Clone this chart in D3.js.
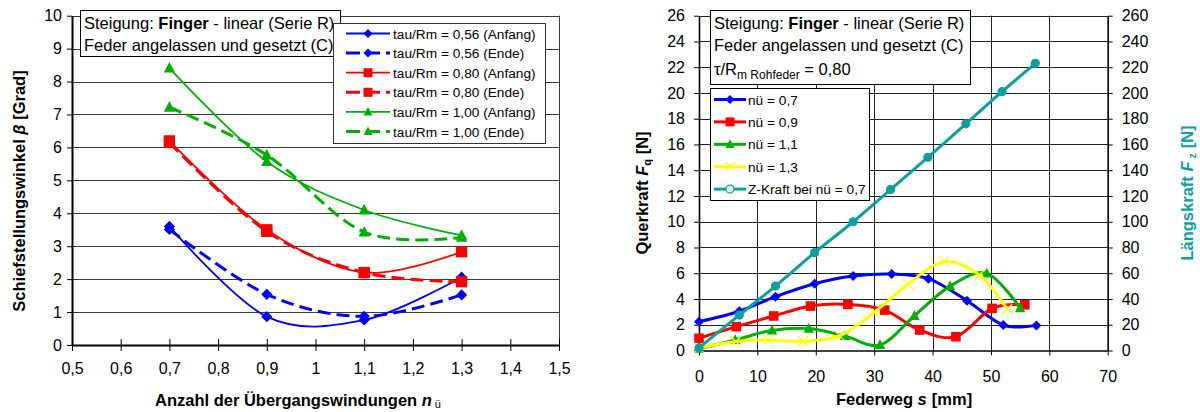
<!DOCTYPE html>
<html>
<head>
<meta charset="utf-8">
<script src="https://cdnjs.cloudflare.com/ajax/libs/d3/7.8.5/d3.min.js"></script>
<style>
body { margin: 0; background: #fff; }
svg { font-family: "Liberation Sans", Arial, sans-serif; }
</style>
</head>
<body>
<div id="chart"></div>
<script>
// ---- left chart data: Schiefstellungswinkel über n_ü
const nuValues = [0.7, 0.9, 1.1, 1.3];
const tau056Anfang = [3.6, 0.86, 0.76, 2.06];
const tau056Ende = [3.51, 1.54, 0.87, 1.52];
const tau080Anfang = [6.2, 3.5, 2.2, 2.83];
const tau080Ende = [6.15, 3.45, 2.2, 1.92];
const tau100Anfang = [8.41, 5.57, 4.1, 3.33];
const tau100Ende = [7.22, 5.77, 3.43, 3.27];
const leftLegend = ['tau/Rm = 0,56 (Anfang)', 'tau/Rm = 0,56 (Ende)', 'tau/Rm = 0,80 (Anfang)',
    'tau/Rm = 0,80 (Ende)', 'tau/Rm = 1,00 (Anfang)', 'tau/Rm = 1,00 (Ende)'];
const leftXTicks = [0.5, 0.6, 0.7, 0.8, 0.9, 1, 1.1, 1.2, 1.3, 1.4, 1.5];
const leftYTicks = [0, 1, 2, 3, 4, 5, 6, 7, 8, 9, 10];

// ---- right chart data: Querkraft / Längskraft über Federweg
const sNu07 = [0, 6.9, 13.1, 19.8, 26.4, 33.0, 39.3, 45.9, 52.1, 57.8];
const fqNu07 = [2.24, 3.05, 4.18, 5.18, 5.78, 5.94, 5.58, 3.87, 1.98, 1.95];
const sNu09 = [0, 6.4, 12.8, 19.1, 25.5, 31.8, 37.8, 44.0, 50.2, 55.8];
const fqNu09 = [0.95, 1.85, 2.68, 3.45, 3.58, 3.14, 1.59, 1.07, 3.27, 3.55];
const sNu11 = [0, 6.2, 12.5, 18.8, 25.0, 31.0, 36.9, 43.0, 49.3, 55.0];
const fqNu11 = [0.15, 0.82, 1.56, 1.7, 1.13, 0.43, 2.7, 5.0, 5.99, 3.3];
const sNu13 = [0, 6.3, 11.9, 17.8, 24.1, 30.0, 35.8, 42.0, 48.0, 52.8];
const fqNu13 = [0.2, 0.7, 0.82, 0.72, 1.15, 2.95, 5.15, 6.9, 5.86, 3.22];
const sZ = [0, 6.9, 13.1, 19.8, 26.4, 32.8, 39.2, 45.7, 51.9, 57.6];
const fzZ = [2, 27.5, 50, 76, 100, 125, 150, 176, 201, 223];
const rightLegend = ['nü = 0,7', 'nü = 0,9', 'nü = 1,1', 'nü = 1,3', 'Z-Kraft bei nü = 0,7'];
const rightXTicks = [0, 10, 20, 30, 40, 50, 60, 70];
const rightYTicks = [0, 2, 4, 6, 8, 10, 12, 14, 16, 18, 20, 22, 24, 26];
const rightY2Ticks = [0, 20, 40, 60, 80, 100, 120, 140, 160, 180, 200, 220, 240, 260];

const BLUE = '#0000ff', RED = '#ff0000', GREEN = '#00b000', YELLOW = '#ffff00', TEAL = '#0aa0a0';

const svg = d3.select('#chart').append('svg')
    .attr('width', 1200)
    .attr('height', 412);

const fmt = d => String(d).replace('.', ',');
const smooth = d3.curveCatmullRom.alpha(0);

// marker drawing, r = half size
function marker (g, type, x, y, r, color) {
    if (type === 'diamond') {
        g.append('path').attr('d', `M${x},${y - r}L${x + r},${y}L${x},${y + r}L${x - r},${y}Z`).attr('fill', color);
    } else if (type === 'square') {
        g.append('rect').attr('x', x - r).attr('y', y - r).attr('width', 2 * r).attr('height', 2 * r).attr('fill', color);
    } else if (type === 'triangle') {
        g.append('path').attr('d', `M${x},${y - r * 1.1}L${x + r},${y + r * 0.8}L${x - r},${y + r * 0.8}Z`).attr('fill', color);
    } else if (type === 'cross') {
        g.append('path').attr('d', `M${x - r},${y - r}L${x + r},${y + r}M${x - r},${y + r}L${x + r},${y - r}`)
            .attr('stroke', color).attr('stroke-width', 1.2);
    } else if (type === 'circle') {
        g.append('circle').attr('cx', x).attr('cy', y).attr('r', r).attr('fill', color);
    } else if (type === 'opencircle') {
        g.append('circle').attr('cx', x).attr('cy', y).attr('r', r - 0.5).attr('fill', '#e8f6f6')
            .attr('stroke', color).attr('stroke-width', 1.2);
    }
}

function styleAxis (g, size) {
    g.selectAll('text').attr('font-size', size).attr('fill', '#000')
        .attr('font-family', '"Liberation Sans", Arial, sans-serif');
    g.selectAll('line').attr('stroke', '#000');
    g.select('.domain').attr('stroke', '#000');
}

// =================== LEFT CHART ===================
const xL = d3.scaleLinear().domain([0.5, 1.5]).range([72, 559]);
const yL = d3.scaleLinear().domain([0, 10]).range([345, 15.7]);
const left = svg.append('g');

left.append('g').selectAll('line')
    .data(leftYTicks.filter(d => d > 0))
    .join('line')
    .attr('x1', xL(0.5)).attr('x2', xL(1.5))
    .attr('y1', d => Math.round(yL(d)) + 0.5).attr('y2', d => Math.round(yL(d)) + 0.5)
    .attr('stroke', '#3a3a3a');
left.append('line')
    .attr('x1', xL(1.5) + 0.5).attr('x2', xL(1.5) + 0.5)
    .attr('y1', yL(10)).attr('y2', yL(0))
    .attr('stroke', '#3a3a3a');

const lyAxis = left.append('g')
    .attr('transform', `translate(${xL(0.5)},0)`)
    .call(d3.axisLeft(yL).tickValues(leftYTicks).tickSize(5).tickSizeOuter(0).tickPadding(5).tickFormat(d => d));
styleAxis(lyAxis, 16);
lyAxis.select('.domain').attr('stroke-width', 2);

const lxAxis = left.append('g')
    .attr('transform', `translate(0,${yL(0)})`)
    .call(d3.axisBottom(xL).tickValues(leftXTicks).tickSize(5).tickSizeOuter(0).tickFormat(fmt));
styleAxis(lxAxis, 16);
lxAxis.select('.domain').attr('stroke-width', 2);
lxAxis.selectAll('.tick line').attr('y1', -6).attr('y2', 6);
lxAxis.selectAll('.tick text').attr('y', 18);

const leftSeries = [
    { values: tau056Anfang, color: BLUE, dash: null, type: 'diamond' },
    { values: tau056Ende, color: BLUE, dash: '13,6', type: 'diamond' },
    { values: tau080Anfang, color: RED, dash: null, type: 'square' },
    { values: tau080Ende, color: RED, dash: '13,6', type: 'square' },
    { values: tau100Anfang, color: GREEN, dash: null, type: 'triangle' },
    { values: tau100Ende, color: GREEN, dash: '13,6', type: 'triangle' }
];

const lineL = d3.line()
    .x((d, i) => xL(nuValues[i]))
    .y(d => yL(d))
    .curve(smooth);

leftSeries.forEach(s => {
    left.append('path')
        .attr('d', lineL(s.values))
        .attr('fill', 'none')
        .attr('stroke', s.color)
        .attr('stroke-width', s.dash ? 3 : 1.8)
        .attr('stroke-dasharray', s.dash);
    const mg = left.append('g');
    s.values.forEach((v, i) => marker(mg, s.type, xL(nuValues[i]), yL(v), 5.6, s.color));
});

// title box
const ltb = left.append('g');
ltb.append('rect').attr('x', 80.5).attr('y', 10.5).attr('width', 260).attr('height', 46)
    .attr('fill', '#fff').attr('stroke', '#000');
const lt1 = ltb.append('text').attr('x', 84).attr('y', 28.5).attr('font-size', 16.5);
lt1.append('tspan').text('Steigung: ');
lt1.append('tspan').attr('font-weight', 'bold').text('Finger');
lt1.append('tspan').text(' - linear (Serie R)');
ltb.append('text').attr('x', 84).attr('y', 50.5).attr('font-size', 16.5).text('Feder angelassen und gesetzt (C)');

// legend
const llg = left.append('g');
llg.append('rect').attr('x', 333.5).attr('y', 23.5).attr('width', 212).attr('height', 120)
    .attr('fill', '#fff').attr('stroke', '#333');
leftSeries.forEach((s, i) => {
    const cy = 33.5 + i * 19.6;
    llg.append('line').attr('x1', 346).attr('x2', 390).attr('y1', cy).attr('y2', cy)
        .attr('stroke', s.color).attr('stroke-width', s.dash ? 3 : 1.8)
        .attr('stroke-dasharray', s.dash ? '14,6' : null);
    marker(llg, s.type, 368, cy, 4.5, s.color);
    llg.append('text').attr('x', 393).attr('y', cy + 5).attr('font-size', 13.7).text(leftLegend[i]);
});

// axis titles
const lxt = left.append('text').attr('x', 155).attr('y', 406).attr('font-size', 16.5).attr('font-weight', 'bold');
lxt.append('tspan').text('Anzahl der Übergangswindungen ');
lxt.append('tspan').attr('font-style', 'italic').text('n');
lxt.append('tspan').attr('font-size', 11).attr('dx', 3).attr('dy', 2).attr('font-weight', 'normal').text('ü');

const lyt = left.append('text').attr('transform', 'translate(25,191) rotate(-90)')
    .attr('text-anchor', 'middle').attr('font-size', 16.5).attr('font-weight', 'bold');
lyt.append('tspan').text('Schiefstellungswinkel ');
lyt.append('tspan').attr('font-style', 'italic').text('β');
lyt.append('tspan').text(' [Grad]');

// =================== RIGHT CHART ===================
const xR = d3.scaleLinear().domain([0, 70]).range([699, 1107.7]);
const yR = d3.scaleLinear().domain([0, 26]).range([350.5, 15.7]);
const yR2 = d3.scaleLinear().domain([0, 260]).range([350.5, 15.7]);
const right = svg.append('g');

right.append('g').selectAll('line')
    .data(rightYTicks.filter(d => d > 0))
    .join('line')
    .attr('x1', xR(0)).attr('x2', xR(70))
    .attr('y1', d => Math.round(yR(d)) + 0.5).attr('y2', d => Math.round(yR(d)) + 0.5)
    .attr('stroke', '#222');
right.append('g').selectAll('line')
    .data(rightXTicks.filter(d => d > 0 && d < 70))
    .join('line')
    .attr('x1', d => Math.round(xR(d)) + 0.5).attr('x2', d => Math.round(xR(d)) + 0.5)
    .attr('y1', yR(26)).attr('y2', yR(0))
    .attr('stroke', '#222');

const ryAxis = right.append('g')
    .attr('transform', `translate(${xR(0)},0)`)
    .call(d3.axisLeft(yR).tickValues(rightYTicks).tickSize(5).tickSizeOuter(0).tickPadding(9));
styleAxis(ryAxis, 16);
ryAxis.select('.domain').attr('stroke-width', 1.6);

const ry2Axis = right.append('g')
    .attr('transform', `translate(${xR(70)},0)`)
    .call(d3.axisRight(yR2).tickValues(rightY2Ticks).tickSize(5).tickSizeOuter(0).tickPadding(9));
styleAxis(ry2Axis, 16);
ry2Axis.select('.domain').attr('stroke-width', 1.6);

const rxAxis = right.append('g')
    .attr('transform', `translate(0,${yR(0)})`)
    .call(d3.axisBottom(xR).tickValues(rightXTicks).tickSize(5).tickSizeOuter(0));
styleAxis(rxAxis, 16);
rxAxis.select('.domain').attr('stroke-width', 1.4);
rxAxis.selectAll('.tick text').attr('y', 20);

const rightSeries = [
    { s: sNu07, v: fqNu07, color: BLUE, type: 'diamond', r: 5, y: yR },
    { s: sNu09, v: fqNu09, color: RED, type: 'square', r: 4.8, y: yR },
    { s: sNu11, v: fqNu11, color: GREEN, type: 'triangle', r: 5.2, y: yR },
    { s: sNu13, v: fqNu13, color: YELLOW, type: 'cross', r: 5, y: yR },
    { s: sZ, v: fzZ, color: TEAL, type: 'circle', r: 4.6, y: yR2 }
];

rightSeries.forEach(ser => {
    const line = d3.line()
        .x((d, i) => xR(ser.s[i]))
        .y(d => ser.y(d))
        .curve(smooth);
    right.append('path')
        .attr('d', line(ser.v))
        .attr('fill', 'none')
        .attr('stroke', ser.color)
        .attr('stroke-width', 3);
    const mg = right.append('g');
    ser.v.forEach((d, i) => marker(mg, ser.type, xR(ser.s[i]), ser.y(d), ser.r, ser.color));
});

// title box
const rtb = right.append('g');
rtb.append('rect').attr('x', 710.5).attr('y', 10.5).attr('width', 260).attr('height', 74)
    .attr('fill', '#fff').attr('stroke', '#000');
const rt1 = rtb.append('text').attr('x', 714).attr('y', 28.5).attr('font-size', 16.5);
rt1.append('tspan').text('Steigung: ');
rt1.append('tspan').attr('font-weight', 'bold').text('Finger');
rt1.append('tspan').text(' - linear (Serie R)');
rtb.append('text').attr('x', 714).attr('y', 50.5).attr('font-size', 16.5).text('Feder angelassen und gesetzt (C)');
const rt3 = rtb.append('text').attr('x', 714).attr('y', 75).attr('font-size', 16.5);
rt3.append('tspan').text('τ/R');
rt3.append('tspan').attr('font-size', 12).attr('dy', 4).text('m Rohfeder');
rt3.append('tspan').attr('dy', -4).text(' = 0,80');

// legend
const rlg = right.append('g');
rlg.append('rect').attr('x', 710.5).attr('y', 88.5).attr('width', 159).attr('height', 112)
    .attr('fill', '#fff').attr('stroke', '#000');
rightSeries.forEach((ser, i) => {
    const cy = 99.5 + i * 22.4;
    rlg.append('line').attr('x1', 714).attr('x2', 746).attr('y1', cy).attr('y2', cy)
        .attr('stroke', ser.color).attr('stroke-width', 3);
    marker(rlg, ser.type === 'circle' ? 'opencircle' : ser.type, 730, cy, 4.5, ser.color);
    rlg.append('text').attr('x', 748).attr('y', cy + 5).attr('font-size', 13.7).text(rightLegend[i]);
});

// axis titles
const rxt = right.append('text').attr('x', 836).attr('y', 405).attr('font-size', 16.5).attr('font-weight', 'bold');
rxt.append('tspan').text('Federweg ');
rxt.append('tspan').attr('font-style', 'italic').text('s');
rxt.append('tspan').attr('dx', 5).text('[mm]');

const ryt = right.append('text').attr('transform', 'translate(648,193) rotate(-90)')
    .attr('text-anchor', 'middle').attr('font-size', 16.5).attr('font-weight', 'bold');
ryt.append('tspan').text('Querkraft ');
ryt.append('tspan').attr('font-style', 'italic').text('F');
ryt.append('tspan').attr('font-size', 11).attr('dy', 3).text('q');
ryt.append('tspan').attr('dy', -3).text(' [N]');

const ry2t = right.append('text').attr('transform', 'translate(1193,193) rotate(-90)')
    .attr('text-anchor', 'middle').attr('font-size', 16.5).attr('font-weight', 'bold').attr('fill', TEAL);
ry2t.append('tspan').text('Längskraft ');
ry2t.append('tspan').attr('font-style', 'italic').text('F');
ry2t.append('tspan').attr('font-size', 11).attr('dy', 3).text(' z');
ry2t.append('tspan').attr('dy', -3).text(' [N]');
</script>
</body>
</html>
